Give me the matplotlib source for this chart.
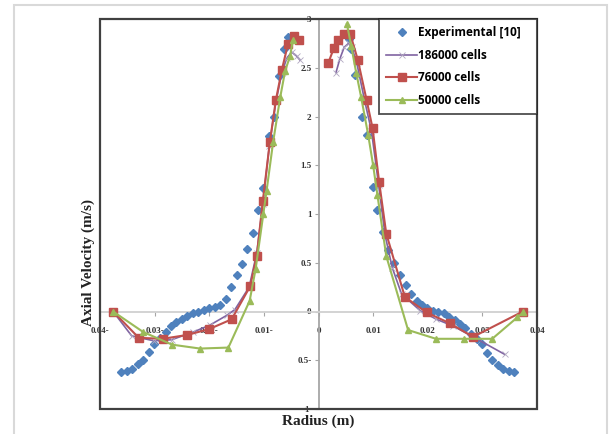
import numpy as np
import matplotlib.pyplot as plt
from matplotlib.patches import Rectangle

# Experimental [10]
exp_r = [-0.0361, -0.0351, -0.0341, -0.0331, -0.0321, -0.0310, -0.0301, -0.0290, -0.0280,
         -0.0270, -0.0260, -0.0250, -0.0240, -0.0230, -0.0220, -0.0210, -0.0200, -0.0190,
         -0.0180, -0.0170, -0.0160, -0.0150, -0.0140, -0.0130, -0.0120, -0.0110, -0.0101,
         -0.0091, -0.0081, -0.0072, -0.0063, -0.0055,
         0.0055, 0.0059, 0.0067, 0.0079, 0.0088, 0.0099, 0.0108, 0.0118, 0.0128, 0.0138,
         0.0149, 0.0160, 0.0169, 0.0180, 0.0189, 0.0199, 0.0209, 0.0219, 0.0230, 0.0239,
         0.0250, 0.0259, 0.0269, 0.0280, 0.0290, 0.0299, 0.0308, 0.0318, 0.0328, 0.0338,
         0.0349, 0.0358]
exp_v = [-0.62, -0.61, -0.59, -0.54, -0.50, -0.42, -0.33, -0.27, -0.21,
         -0.15, -0.11, -0.08, -0.05, -0.02, 0.00, 0.02, 0.04, 0.05,
         0.07, 0.13, 0.25, 0.37, 0.49, 0.64, 0.81, 1.04, 1.27,
         1.80, 2.00, 2.42, 2.69, 2.82,
         2.80, 2.69, 2.43, 2.00, 1.81, 1.28, 1.04, 0.82, 0.63, 0.50,
         0.37, 0.27, 0.18, 0.11, 0.07, 0.04, 0.01, 0.00, -0.02, -0.06,
         -0.09, -0.13, -0.17, -0.23, -0.28, -0.33, -0.43, -0.50, -0.55, -0.59,
         -0.61, -0.62]

# 186000 cells (left branch, gap, right branch)
c186_r = [-0.0376, -0.0342, -0.0302, -0.0269, -0.0229, -0.0199, -0.0168, -0.0153, -0.0127,
          -0.0113, -0.0102, -0.0090, -0.0078, -0.0067, -0.0058, -0.0049, -0.0040, -0.0034,
          np.nan,
          0.0032, 0.0039, 0.0047, 0.0055, 0.0061, 0.0070, 0.0085, 0.0097, 0.0110, 0.0122,
          0.0135, 0.0152, 0.0186, 0.0216, 0.0247, 0.0283, 0.0341]
c186_v = [0.00, -0.25, -0.30, -0.29, -0.21, -0.14, -0.04, 0.02, 0.25,
          0.60, 1.10, 1.70, 2.15, 2.45, 2.60, 2.66, 2.62, 2.58,
          np.nan,
          2.45, 2.59, 2.71, 2.75, 2.71, 2.55, 2.15, 1.85, 1.30, 0.78,
          0.45, 0.18, 0.01, -0.08, -0.15, -0.26, -0.44]

# 76000 cells
c76_r = [-0.0376, -0.0329, -0.0285, -0.0240, -0.0200, -0.0159, -0.0125, -0.0113, -0.0102,
         -0.0089, -0.0078, -0.0067, -0.0056, -0.0045, -0.0036,
         np.nan,
         0.0018, 0.0028, 0.0036, 0.0046, 0.0058, 0.0072, 0.0088, 0.0099, 0.0111, 0.0124,
         0.0158, 0.0198, 0.0240, 0.0283, 0.0374]
c76_v = [0.00, -0.27, -0.28, -0.24, -0.18, -0.08, 0.26, 0.57, 1.13,
         1.74, 2.17, 2.48, 2.74, 2.83, 2.78,
         np.nan,
         2.55, 2.70, 2.78, 2.85, 2.85, 2.58, 2.17, 1.88, 1.33, 0.80,
         0.15, -0.01, -0.12, -0.26, 0.00]

# 50000 cells
c50_r = [-0.0376, -0.0321, -0.0268, -0.0217, -0.0165, -0.0126, -0.0115, -0.0101, -0.0095,
         -0.0083, -0.0070, -0.0061, -0.0052, -0.0047,
         np.nan,
         0.0052, 0.0060, 0.0069, 0.0078, 0.0091, 0.0100, 0.0108, 0.0124, 0.0164, 0.0215,
         0.0266, 0.0318, 0.0364, 0.0375]
c50_v = [0.00, -0.21, -0.34, -0.38, -0.37, 0.11, 0.44, 1.00, 1.24,
         1.74, 2.20, 2.47, 2.62, 2.78,
         np.nan,
         2.95, 2.72, 2.45, 2.20, 1.81, 1.50, 1.19, 0.57, -0.19, -0.28,
         -0.28, -0.28, -0.06, -0.01]

x_ticks = [-0.04, -0.03, -0.02, -0.01, 0, 0.01, 0.02, 0.03, 0.04]
x_labels = ['0.04-', '0.03-', '0.02-', '0.01-', '0', '0.01', '0.02', '0.03', '0.04']
y_ticks = [-1, -0.5, 0, 0.5, 1, 1.5, 2, 2.5, 3]
y_labels = ['1-', '0.5-', '0', '0.5', '1', '1.5', '2', '2.5', '3']

fig = plt.figure(figsize=(6.10, 4.34), dpi=100)
ax = fig.add_axes([100 / 610, 1 - 409 / 434, 437 / 610, 390 / 434])

ax.plot(exp_r, exp_v, linestyle='none', marker='D', markersize=3.8, color='#4F81BD',
        label='Experimental [10]', zorder=3)
ax.plot(c186_r, c186_v, color='#8064A2', lw=1.2, marker='x', markersize=4, mew=0.6,
        markeredgecolor='#B0A8C0', label='186000 cells', zorder=4)
ax.plot(c76_r, c76_v, color='#C0504D', lw=1.5, marker='s', markersize=5.2,
        label='76000 cells', zorder=5)
ax.plot(c50_r, c50_v, color='#9BBB59', lw=1.5, marker='^', markersize=4.8,
        label='50000 cells', zorder=6)

ax.set_xlim(-0.04, 0.04)
ax.set_ylim(-1, 3)

# axes crossing at the origin
for s in ['top', 'right']:
    ax.spines[s].set_visible(False)
ax.spines['left'].set_position('zero')
ax.spines['bottom'].set_position('zero')
ax.spines['left'].set_color('#A6A6A6')
ax.spines['bottom'].set_color('#D0D0D0')
ax.spines['left'].set_linewidth(1.3)
ax.spines['bottom'].set_linewidth(1.3)

ax.set_xticks(x_ticks)
ax.set_xticklabels(x_labels)
ax.set_yticks(y_ticks)
ax.set_yticklabels(y_labels)
ax.tick_params(axis='both', length=3, width=0.8, color='#A6A6A6', labelsize=6.5)
ax.tick_params(axis='x', pad=8)
ax.tick_params(axis='y', pad=2)
for lab in ax.get_xticklabels() + ax.get_yticklabels():
    lab.set_fontfamily('Liberation Serif')
    lab.set_fontweight('bold')
    lab.set_color('#333333')

# outer dark frame of the plot area
ax.add_patch(Rectangle((0, 0), 1, 1, transform=ax.transAxes, fill=False,
                       edgecolor='#404040', lw=1.6, clip_on=False, zorder=10))

fig.text(88 / 610, 1 - 262 / 434, 'Axial Velocity (m/s)', rotation=90, ha='center',
         va='center', fontsize=11, fontweight='bold', family='Liberation Serif', color='#222222')
fig.text(318 / 610, 1 - 421 / 434, 'Radius (m)', ha='center', va='center', fontsize=11,
         fontweight='bold', family='Liberation Serif', color='#222222')

handles, labels = ax.get_legend_handles_labels()
labels = [t + '   ' for t in labels]
leg = ax.legend(handles, labels, loc='upper right', bbox_to_anchor=(1.0, 1.0), frameon=True,
                fancybox=False, borderaxespad=0,
                prop={'family': 'Open Sans', 'weight': 'bold', 'size': 8.5},
                handlelength=2.6, handletextpad=0.1, labelspacing=0.82, borderpad=0.6)
leg.get_frame().set_edgecolor('#222222')
leg.get_frame().set_linewidth(1.3)
leg.set_zorder(11)

# light grey border around the whole picture
fig.patches.append(Rectangle((14 / 610, -0.01), 593 / 610, 1 - 5 / 434 + 0.01,
                             transform=fig.transFigure, fill=False,
                             edgecolor='#D9D9D9', lw=1.5))

fig.savefig('out.png', dpi=100)
